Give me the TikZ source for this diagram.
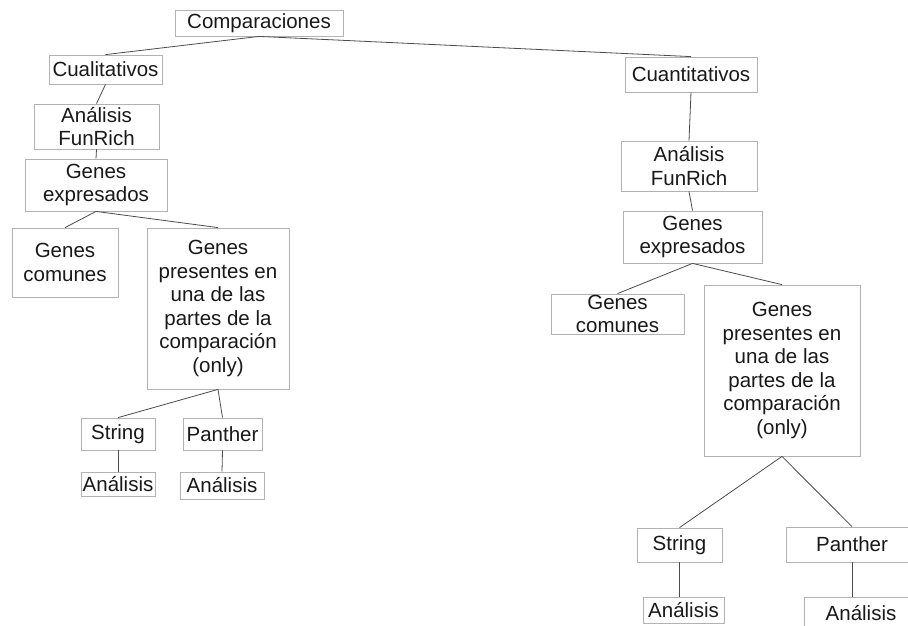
\documentclass[tikz,border=0pt]{standalone}
\usepackage{fontspec}
\setmainfont{Liberation Sans}
\begin{document}
\begin{tikzpicture}[x=1pt,y=-1pt,
  box/.style={draw=black!30, line width=0.8pt, inner sep=0pt, align=center,
    font=\fontsize{20.5}{23.5}\selectfont, text=black!90},
  link/.style={draw=black!70, line width=0.8pt}]
\clip (0,0) rectangle (908,625);
\fill[white] (0,0) rectangle (908,625);
% root
\node[box, minimum width=168pt, minimum height=26pt] (comp) at (259,23) {Comparaciones};
% left branch
\node[box, minimum width=113pt, minimum height=29pt] (cual) at (105.5,69.5) {Cualitativos};
\node[box, minimum width=125pt, minimum height=45pt] (afl) at (96.5,126.5) {Análisis\\FunRich};
\node[box, minimum width=142pt, minimum height=52pt] (gel) at (96,185) {Genes\\expresados};
\node[box, minimum width=106pt, minimum height=69pt] (gcl) at (65,262.5) {Genes\\comunes};
\node[box, minimum width=142pt, minimum height=161pt] (gpl) at (218,308.5) {Genes\\presentes en\\una de las\\partes de la\\comparación\\(only)};
\node[box, minimum width=74pt, minimum height=32pt] (sl) at (118,434) {String};
\node[box, minimum width=79pt, minimum height=32pt] (pl) at (222.5,434) {Panther};
\node[box, minimum width=74pt, minimum height=24pt] (asl) at (118,484) {Análisis};
\node[box, minimum width=84pt, minimum height=27pt] (apl) at (222,485.5) {Análisis};
% right branch
\node[box, minimum width=132pt, minimum height=35pt] (cuan) at (691,74.5) {Cuantitativos};
\node[box, minimum width=136pt, minimum height=50pt] (afr) at (689,166) {Análisis\\FunRich};
\node[box, minimum width=139pt, minimum height=52pt] (ger) at (692.5,237) {Genes\\expresados};
\node[box, minimum width=133pt, minimum height=40pt] (gcr) at (617.5,314) {Genes\\comunes};
\node[box, minimum width=156pt, minimum height=171pt] (gpr) at (782,370.5) {Genes\\presentes en\\una de las\\partes de la\\comparación\\(only)};
\node[box, minimum width=85pt, minimum height=34pt] (sr) at (679.5,545) {String};
\node[box, minimum width=132pt, minimum height=35pt] (pr) at (852,544.5) {Panther};
\node[box, minimum width=81pt, minimum height=26pt] (asr) at (683.5,610) {Análisis};
\node[box, minimum width=114pt, minimum height=32pt] (apr) at (861,613) {Análisis};
% connectors
\draw[link] (comp.south) -- (cual.north);
\draw[link] (comp.south) -- (cuan.north);
\draw[link] (cual.south) -- (afl.north);
\draw[link] (afl.south) -- (gel.north);
\draw[link] (gel.south) -- (gcl.north);
\draw[link] (gel.south) -- (gpl.north);
\draw[link] (gpl.south) -- (sl.north);
\draw[link] (gpl.south) -- (pl.north);
\draw[link] (sl.south) -- (asl.north);
\draw[link] (pl.south) -- (apl.north);
\draw[link] (cuan.south) -- (afr.north);
\draw[link] (afr.south) -- (ger.north);
\draw[link] (ger.south) -- (gcr.north);
\draw[link] (ger.south) -- (gpr.north);
\draw[link] (gpr.south) -- (sr.north);
\draw[link] (gpr.south) -- (pr.north);
\draw[link] (sr.south) -- (sr.south |- asr.north);
\draw[link] (pr.south) -- (pr.south |- apr.north);
\end{tikzpicture}
\end{document}
